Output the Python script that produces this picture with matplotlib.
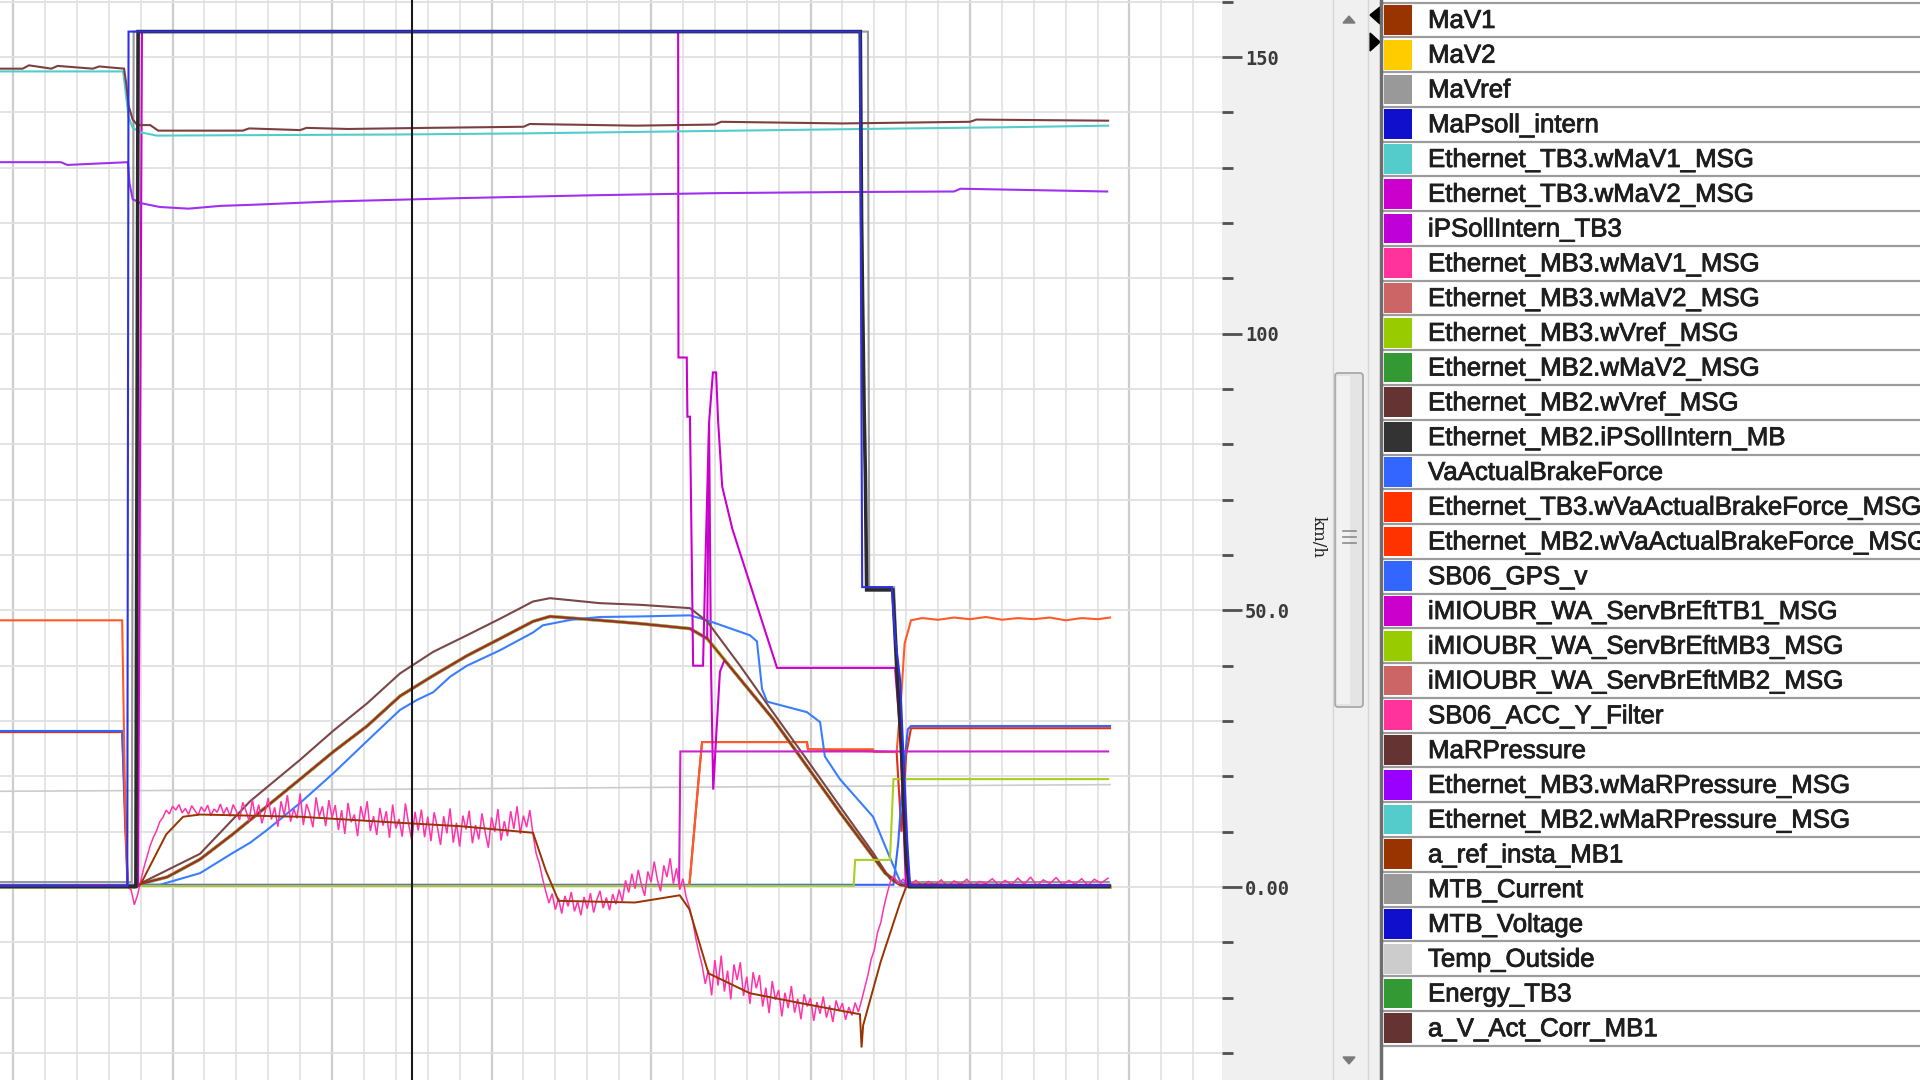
import matplotlib
matplotlib.use("Agg")
import matplotlib.pyplot as plt
import matplotlib.patheffects as pe
from matplotlib.patches import Rectangle, Polygon, FancyBboxPatch
from matplotlib.ticker import FuncFormatter

# ---------------- legend entries ----------------
names = ["MaV1", "MaV2", "MaVref", "MaPsoll_intern", "Ethernet_TB3.wMaV1_MSG",
         "Ethernet_TB3.wMaV2_MSG", "iPSollIntern_TB3", "Ethernet_MB3.wMaV1_MSG",
         "Ethernet_MB3.wMaV2_MSG", "Ethernet_MB3.wVref_MSG", "Ethernet_MB2.wMaV2_MSG",
         "Ethernet_MB2.wVref_MSG", "Ethernet_MB2.iPSollIntern_MB", "VaActualBrakeForce",
         "Ethernet_TB3.wVaActualBrakeForce_MSG", "Ethernet_MB2.wVaActualBrakeForce_MSG",
         "SB06_GPS_v", "iMIOUBR_WA_ServBrEftTB1_MSG", "iMIOUBR_WA_ServBrEftMB3_MSG",
         "iMIOUBR_WA_ServBrEftMB2_MSG", "SB06_ACC_Y_Filter", "MaRPressure",
         "Ethernet_MB3.wMaRPressure_MSG", "Ethernet_MB2.wMaRPressure_MSG", "a_ref_insta_MB1",
         "MTB_Current", "MTB_Voltage", "Temp_Outside", "Energy_TB3", "a_V_Act_Corr_MB1"]
colors = ["#993300", "#ffcc00", "#999999", "#1010cc", "#55cccc", "#cc00cc", "#c000d8",
          "#ff3399", "#cc6666", "#99cc00", "#339933", "#663333", "#333333", "#3366ff",
          "#ff3300", "#ff3300", "#3366ff", "#cc00cc", "#99cc00", "#cc6666", "#ff3399",
          "#663333", "#9900ff", "#55cccc", "#993300", "#999999", "#1010cc", "#cccccc",
          "#339933", "#663333"]

y_labels = {0: "0.00", 50: "50.0", 100: "100", 150: "150"}
cursor_t = 12.5

# ---------------- channels (t, value) ----------------
psoll_t = [-0.41, 3.58, 3.62, 26.55, 26.62, 27.55, 27.65, 27.81, 27.90, 28.03, 28.12, 34.35]
psoll_v = [0.2, 0.2, 154.6, 154.6, 54.2, 54.2, 45.3, 37.4, 25.4, 8.5, 0.2, 0.2]

ipsoll_mb_t = [-0.41, 3.85, 3.92, 26.56, 26.60, 26.63, 26.68, 26.72, 26.76, 27.58, 27.70, 27.85, 28.00, 28.10, 34.35]
ipsoll_mb_v = [0.1, 0.1, 154.6, 154.6, 120.9, 107.0, 86.5, 74.3, 53.7, 53.7, 40.0, 25.0, 5.0, 0.1, 0.1]

mtb_cur_t = [-0.41, 3.72, 3.78, 26.80, 26.84, 27.62, 27.80, 28.06, 34.35]
mtb_cur_v = [0.9, 0.9, 154.6, 154.6, 54.2, 54.2, 30.0, 0.9, 0.9]

press_t = [-0.41, 0.3, 0.5, 1.2, 1.4, 2.5, 2.7, 3.48, 3.55, 3.62, 3.75, 3.9, 4.3, 4.55, 7.2, 7.4,
           9.0, 9.2, 10.5, 13.0, 16.0, 16.2, 19.5, 22.0, 22.2, 26.0, 30.0, 30.2, 34.33]
press_v = [147.9, 147.9, 148.5, 147.9, 148.4, 147.9, 148.3, 147.9, 145.1, 141.2, 138.7, 137.7,
           137.7, 136.7, 136.7, 137.1, 136.8, 137.2, 137.0, 137.2, 137.4, 137.9, 137.6, 137.8,
           138.3, 138.0, 138.3, 138.7, 138.5]

press_mb2_t = [-0.41, 1.3, 3.45, 3.52, 3.62, 3.75, 4.0, 4.5, 8.0, 12.0, 16.0, 20.0, 24.0, 28.0, 31.0, 34.33]
press_mb2_v = [147.4, 147.4, 147.4, 144.1, 139.2, 137.2, 136.4, 135.8, 135.9, 136.0, 136.2, 136.5,
               136.8, 137.1, 137.3, 137.6]

press_mb3_t = [-0.41, 1.5, 1.7, 3.60, 3.65, 3.75, 4.0, 4.6, 5.5, 6.5, 7.5, 10.0, 14.0, 18.0, 22.0,
               26.0, 29.5, 29.7, 34.3]
press_mb3_v = [131.0, 131.0, 130.5, 131.0, 127.2, 124.3, 123.6, 122.9, 122.6, 123.1, 123.3, 123.9,
               124.5, 125.0, 125.4, 125.6, 125.7, 126.2, 125.7]

speed_t = [-0.41, 3.82, 4.08, 4.83, 5.86, 6.90, 7.43, 7.96, 9.00, 10.03, 11.10, 12.13, 13.17, 14.23,
           15.27, 16.30, 16.83, 18.40, 19.66, 21.22, 21.76, 22.79, 23.82, 24.89, 25.92, 26.96, 27.34,
           27.81, 28.12, 34.39]
speed_v = [0.0, 0.0, 0.7, 1.8, 5.0, 9.6, 12.1, 14.6, 19.5, 24.4, 29.1, 34.5, 38.2, 41.8, 44.9, 48.0,
           48.9, 48.2, 47.6, 46.7, 44.9, 37.6, 30.4, 21.8, 13.5, 5.5, 2.5, 0.5, 0.0, 0.0]

vref_t = [-0.41, 3.82, 4.08, 5.86, 7.43, 9.00, 10.03, 11.10, 12.13, 13.17, 14.23, 15.27, 16.30, 16.83,
          18.40, 19.66, 21.22, 21.76, 22.79, 23.82, 24.89, 25.92, 26.96, 27.49, 27.81, 34.39]
vref_v = [0.0, 0.0, 0.9, 6.0, 15.5, 23.0, 28.2, 33.2, 38.6, 42.5, 45.5, 48.5, 51.6, 52.2, 51.3, 51.0,
          50.4, 48.0, 40.0, 31.6, 23.0, 14.6, 6.2, 1.5, 0.3, 0.3]

gps_t = [-0.41, 4.6, 5.86, 6.90, 7.43, 7.96, 9.00, 10.03, 11.10, 12.13, 12.66, 13.17, 13.70, 14.23,
         15.27, 16.30, 16.61, 17.5, 18.4, 19.66, 21.22, 21.76, 23.10, 23.32, 23.48, 23.64, 24.89,
         25.30, 25.45, 25.92, 26.96, 27.49, 27.81, 28.12, 34.39]
gps_v = [0.4, 0.4, 2.5, 6.2, 8.0, 10.3, 15.2, 20.5, 26.4, 32.0, 33.8, 35.2, 38.0, 40.0, 42.8, 46.0,
         47.3, 48.3, 48.8, 48.9, 49.1, 48.2, 45.5, 44.4, 35.8, 33.5, 31.6, 29.8, 23.6, 19.5, 12.7,
         5.3, 1.0, 0.4, 0.4]

mav2_tb3_t = [-0.41, 3.82, 4.08, 4.83, 5.86, 6.90, 7.43, 7.96, 9.00, 10.03, 11.10, 12.13, 13.17, 14.23,
              15.27, 16.30, 16.83, 18.40, 19.66, 21.22, 21.76, 21.82, 21.88, 21.95, 22.05, 22.16,
              22.30, 22.79, 23.82, 24.89, 25.92, 26.96, 27.34, 27.81, 28.12, 34.39]
mav2_tb3_v = [0.0, 0.0, 0.7, 1.8, 5.0, 9.6, 12.1, 14.6, 19.5, 24.4, 29.1, 34.5, 38.2, 41.8, 44.9, 48.0,
              48.9, 48.2, 47.6, 46.7, 44.9, 84.0, 40.0, 17.6, 28.0, 38.9, 41.0, 37.6, 30.4, 21.8, 13.5,
              5.5, 2.5, 0.5, 0.0, 0.0]

psoll_tb3_t = [-0.41, 3.92, 4.04, 20.85, 20.86, 21.12, 21.14, 21.22, 21.32, 21.63, 21.72, 21.82,
               21.94, 22.04, 22.10, 22.23, 22.55, 23.95, 27.65, 27.81, 27.99, 34.33]
psoll_tb3_v = [0.2, 0.2, 154.6, 154.6, 95.7, 95.7, 85.0, 85.0, 40.0, 40.0, 62.0, 84.0, 93.0, 93.0,
               84.5, 72.4, 64.7, 39.6, 39.6, 28.0, 0.3, 0.3]

eff_tb1_t = [-0.41, 20.88, 20.92, 34.33]
eff_tb1_v = [0.2, 0.2, 24.5, 24.5]

eff_mb3_t = [-0.41, 26.35, 26.40, 27.49, 27.60, 34.33]
eff_mb3_v = [0.2, 0.2, 4.9, 4.9, 19.5, 19.5]

temp_t = [-0.41, 10.0, 20.0, 34.39]
temp_v = [17.3, 17.6, 18.0, 18.5]

bf_tb3_t = [-0.41, 3.42, 3.50, 3.58, 21.20, 21.35, 21.50, 21.60, 24.89, 24.92, 26.96, 27.00, 27.70,
            27.85, 27.95, 28.15, 28.5, 29.0, 29.5, 30.0, 30.5, 31.0, 31.5, 32.0, 32.5, 33.0, 33.5,
            34.0, 34.39]
bf_tb3_v = [48.2, 48.2, 20.0, 0.2, 0.2, 10.0, 20.0, 26.2, 26.2, 24.9, 24.9, 24.4, 24.4, 35.0, 44.0,
            48.2, 48.6, 48.3, 48.7, 48.4, 48.8, 48.3, 48.6, 48.4, 48.7, 48.2, 48.6, 48.4, 48.7]

bf_mb2_t = [-0.41, 3.42, 3.52, 3.60, 21.20, 21.35, 21.50, 21.60, 24.89, 24.92, 27.70, 27.85, 28.00,
            28.15, 34.39]
bf_mb2_v = [28.0, 28.0, 10.0, 0.2, 0.2, 10.0, 20.0, 26.2, 26.2, 24.9, 24.4, 10.0, 24.0, 28.7, 28.7]

bf_act_t = [-0.41, 3.42, 3.60, 27.60, 27.75, 27.90, 28.05, 28.15, 34.39]
bf_act_v = [28.2, 28.2, 0.4, 0.4, 8.0, 20.0, 28.5, 29.1, 29.1]

acc_t = [-0.41, 1.0, 2.5, 3.5, 3.7, 3.8, 3.9, 4.0, 4.1, 4.2, 4.3, 4.4, 4.5, 4.6, 4.7, 4.8,
         4.9, 5.0, 5.1, 5.2, 5.3, 5.4, 5.5, 5.6, 5.7, 5.8, 5.9, 6.0, 6.1, 6.2, 6.3, 6.4, 6.5,
         6.6, 6.7, 6.8, 6.9, 7.0,
         7.1, 7.2, 7.3, 7.4, 7.5, 7.6, 7.7, 7.8, 7.9, 8.0, 8.1, 8.2, 8.3, 8.4, 8.5, 8.6, 8.7,
         8.8, 8.9, 9.0, 9.1, 9.2, 9.3, 9.4, 9.5, 9.6, 9.7, 9.8, 9.9, 10.0,
         10.1, 10.2, 10.3, 10.4, 10.5, 10.6, 10.7, 10.8, 10.9, 11.0, 11.1, 11.2, 11.3, 11.4, 11.5,
         11.6, 11.7, 11.8, 11.9, 12.0, 12.1, 12.2, 12.3, 12.4, 12.5, 12.6, 12.7, 12.8, 12.9, 13.0,
         13.1, 13.2, 13.3, 13.4, 13.5, 13.6, 13.7, 13.8, 13.9, 14.0, 14.1, 14.2, 14.3, 14.4, 14.5,
         14.6, 14.7, 14.8, 14.9, 15.0, 15.1, 15.2, 15.3, 15.4, 15.5, 15.6, 15.7, 15.8, 15.9, 16.0,
         16.1, 16.2,
         16.3, 16.4, 16.5, 16.6, 16.7, 16.8, 16.9, 17.0,
         17.1, 17.2, 17.3, 17.4, 17.5, 17.6, 17.7, 17.8, 17.9, 18.0, 18.1, 18.2, 18.3, 18.4, 18.5,
         18.6, 18.7, 18.8, 18.9, 19.0,
         19.1, 19.2, 19.3, 19.4, 19.5, 19.6, 19.7, 19.8, 19.9, 20.0, 20.1, 20.2, 20.3, 20.4, 20.5,
         20.6, 20.7, 20.8, 20.9,
         21.0, 21.1, 21.2, 21.3, 21.4, 21.5, 21.6, 21.7, 21.8,
         21.9, 22.0, 22.1, 22.2, 22.3, 22.4, 22.5, 22.6, 22.7, 22.8, 22.9, 23.0, 23.1, 23.2, 23.3,
         23.4, 23.5, 23.6, 23.7, 23.8, 23.9, 24.0, 24.1, 24.2, 24.3, 24.4, 24.5, 24.6, 24.7, 24.8,
         24.9, 25.0, 25.1, 25.2, 25.3, 25.4, 25.5, 25.6, 25.7, 25.8, 25.9, 26.0, 26.1, 26.2, 26.3,
         26.4, 26.5,
         26.6, 26.7, 26.8, 26.9, 27.0, 27.1, 27.2, 27.3, 27.4, 27.5, 27.6,
         27.75, 27.9, 28.1, 28.3, 28.5, 28.7, 28.9, 29.1, 29.3, 29.5, 29.7, 29.9, 30.1, 30.3, 30.5,
         30.7, 30.9, 31.1, 31.3, 31.5, 31.7, 31.9, 32.1, 32.3, 32.5, 32.7, 32.9, 33.1, 33.3, 33.5,
         33.7, 33.9, 34.1, 34.33]
acc_v = [0.3, 0.2, 0.4, 0.3, -0.5, -3.2, -1.5, 1.0, 3.5, 5.5, 7.5, 9.0, 10.2, 11.8, 12.6, 13.9,
         13.2, 14.6, 13.9, 14.9, 13.4, 14.2, 13.1, 14.7, 13.8, 13.0, 14.5, 13.6, 14.8, 12.9, 14.1,
         13.5, 15.0, 13.2, 14.4, 12.8, 14.9, 13.7,
         12.1, 15.3, 13.8, 11.9, 15.8, 12.6, 14.9, 11.5, 13.6, 16.1, 12.2, 14.4, 10.9, 15.5, 13.0,
         16.6, 11.8, 14.1, 12.4, 16.9, 11.2, 15.0, 13.3, 10.8, 16.2, 12.7, 14.6, 11.0, 15.7, 12.5,
         14.8, 10.3, 13.9, 9.6, 15.2, 11.7, 13.1, 9.2, 14.6, 12.0, 15.5, 10.1, 12.8, 9.4, 14.3,
         11.1, 13.7, 8.9, 14.9, 10.6, 12.3, 9.1, 15.1, 11.4, 8.4, 13.6, 10.2, 14.0, 9.0, 12.7,
         8.3, 13.5, 10.9, 7.6, 12.8, 9.7, 14.2, 8.0, 11.6, 7.3, 12.9, 10.4, 13.8, 7.9, 11.2,
         8.6, 13.3, 9.9, 7.1, 12.6, 10.0, 14.1, 8.4, 11.9, 9.2, 13.7, 10.5, 14.6, 9.6, 12.9,
         10.8, 13.9,
         9.5, 6.0, 4.2, 1.5, -0.8, -2.9, -1.2, -4.1,
         -2.0, -4.8, -1.6, -3.5, -0.9, -4.4, -2.6, -5.1, -1.8, -3.9, -1.1, -4.6, -2.3, -0.7, -3.8,
         -1.9, -4.2, -1.3, -3.1, -0.5,
         -2.6, 1.2, -1.0, 2.4, -0.3, 3.1, 0.4, -1.6, 2.8, 0.9, 4.6, 1.3, -0.8, 3.9, 1.8,
         5.2, 0.6, 3.4, -0.5,
         1.5, -1.8, -3.6, -5.9, -9.2, -11.8, -14.1, -17.5, -15.0,
         -19.6, -13.2, -17.8, -12.4, -18.9, -15.1, -20.3, -14.0, -16.8, -13.6, -19.7, -16.2, -21.1,
         -15.4, -18.3, -15.9, -21.6, -18.2, -22.8, -17.0, -20.4, -18.6, -23.4, -19.1, -21.9, -17.9,
         -22.7, -20.2, -23.9, -19.4, -21.6, -20.0, -24.2, -20.8, -22.9, -19.8, -23.6, -21.4, -24.4,
         -20.5, -22.4, -21.0, -24.0, -21.7, -23.2, -20.9, -22.6,
         -20.5, -18.2, -15.9, -13.1, -11.4, -8.2, -6.5, -3.6, -1.2, 0.9, 2.0,
         0.6, 1.4, 0.3, 1.2, 0.2, 1.0, 0.4, 1.3, 0.1, 1.1, 0.5, 1.4, 0.2, 1.0, 0.6,
         1.5, 0.3, 1.2, 0.4, 1.6, 0.5, 1.8, 0.2, 1.3, 0.6, 1.7, 0.4, 1.2, 0.5, 1.5,
         0.3, 1.4, 0.7, 1.6]

aref_t = [-0.41, 3.8, 4.0, 4.4, 4.8, 5.33, 5.86, 9.0, 12.13, 14.0, 16.3, 16.7, 17.1, 19.5, 20.9,
          21.2, 21.8, 23.1, 24.7, 26.55, 26.6, 26.65, 27.2, 27.8, 28.03, 34.35]
aref_v = [0.0, 0.0, 0.5, 5.0, 9.5, 12.7, 13.1, 12.7, 11.6, 11.0, 9.8, 3.0, -2.5, -2.8, -1.5,
          -4.0, -15.6, -19.2, -21.0, -23.0, -29.0, -25.0, -13.5, -3.0, 0.5, 0.3]

# ---------------- figure ----------------
W, H = 1920, 1080
fig = plt.figure(figsize=(19.2, 10.8), dpi=100)
fig.patch.set_facecolor("#f0f0f0")

ax = fig.add_axes([0, 0, 1222 / W, 1])
ax.set_facecolor("white")
ax.set_xlim(-0.41, 37.9)
ax.set_ylim(-34.88, 160.31)
for s in ax.spines.values():
    s.set_visible(False)
ax.set_xticks(range(0, 38, 5))
ax.set_xticks(range(0, 38), minor=True)
ax.set_yticks([0, 50, 100, 150])
ax.set_yticks(range(-30, 161, 10), minor=True)
ax.yaxis.tick_right()
ax.yaxis.set_major_formatter(FuncFormatter(lambda v, p: y_labels.get(int(round(v)), "")))
ax.tick_params(axis="x", which="both", length=0, labelbottom=False)
ax.tick_params(axis="y", which="major", right=True, left=False, length=14.5, width=2,
               color="#505050", pad=2, labelsize=13.5, labelcolor="#3a3a3a")
ax.tick_params(axis="y", which="minor", right=True, left=False, length=8, width=2, color="#505050")
ax.grid(axis="x", which="minor", color="#e3e3e3", lw=1.3)
ax.grid(axis="x", which="major", color="#cdcdcd", lw=1.6)
ax.grid(axis="y", which="both", color="#e0e0e0", lw=1.3)
ax.set_axisbelow(True)
for lab in ax.get_yticklabels():
    lab.set_family("DejaVu Sans Mono")
    lab.set_fontweight("bold")


def line(t, v, c, lw=1.5, z=2):
    ax.plot(t, v, color=c, lw=lw, zorder=z, solid_joinstyle="miter")


line(temp_t, temp_v, "#cccccc", 1.2, 1.5)
line(mtb_cur_t, mtb_cur_v, "#999999", 1.5, 2)
line(bf_mb2_t, bf_mb2_v, "#e82a10", 1.5, 2.1)
line(bf_act_t, bf_act_v, "#3366ff", 1.5, 2.2)
line(bf_tb3_t, bf_tb3_v, "#ff5a28", 1.5, 2.3)
line(speed_t, speed_v, "#339933", 2.4, 2.4)
line(speed_t, speed_v, "#55cccc", 2.0, 2.5)
line(speed_t, speed_v, "#ffcc00", 2.0, 2.6)
line(mav2_tb3_t, mav2_tb3_v, "#cc00cc", 1.5, 2.65)
line(gps_t, gps_v, "#3a7dff", 1.5, 2.7)
line(vref_t, vref_v, "#7a4646", 1.5, 2.8)
line(speed_t, speed_v, "#8f3a10", 1.4, 2.9)
line(eff_tb1_t, eff_tb1_v, "#cc22cc", 1.5, 3)
line(eff_mb3_t, eff_mb3_v, "#a8d020", 1.5, 3)
line(acc_t, acc_v, "#ff33aa", 1.1, 3.2)
line(aref_t, aref_v, "#993300", 1.4, 3.3)
line(psoll_tb3_t, psoll_tb3_v, "#cc00cc", 1.5, 3.4)
line(press_mb2_t, press_mb2_v, "#55cccc", 1.5, 3.5)
line(press_t, press_v, "#7a4040", 1.5, 3.6)
line(press_mb3_t, press_mb3_v, "#a030f0", 1.5, 3.6)
line(ipsoll_mb_t, ipsoll_mb_v, "#2a2a2a", 2.6, 3.7)
line(psoll_t, psoll_v, "#2f2fe6", 1.5, 3.8)
ax.axvline(cursor_t, color="#1a1a1a", lw=1.5, zorder=4)

# ---------------- window chrome ----------------
ui = fig.add_axes([0, 0, 1, 1])
ui.set_xlim(0, W)
ui.set_ylim(H, 0)
ui.axis("off")
ui.patch.set_alpha(0)

ui.plot([1333, 1333], [0, H], color="#d6d6d6", lw=1)
ui.plot([1368, 1368], [0, H], color="#d6d6d6", lw=1)
ui.add_patch(FancyBboxPatch((1335, 373), 28, 334, boxstyle="round,pad=0,rounding_size=3",
                            fc="#e4e4e4", ec="#a4a4a4", lw=1.2))
ui.add_patch(Rectangle((1337, 376), 13, 328, fc="#f2f2f2", ec="none"))
for gy in (531, 537, 543):
    ui.plot([1343, 1356], [gy, gy], color="#8c8c8c", lw=1.2)
ui.add_patch(Polygon([(1343, 23), (1355, 23), (1349, 16)], closed=True, color="#7a7a7a"))
ui.add_patch(Polygon([(1343, 1057), (1355, 1057), (1349, 1064)], closed=True, color="#7a7a7a"))
ui.text(1318, 537, "km/h", rotation=-90, fontsize=12, family="DejaVu Serif",
        ha="center", va="center", color="#222222")

# legend list
ui.add_patch(Rectangle((1381, 0), W - 1381, H, fc="white", ec="none"))
ROW_H = 34.77
ROW_Y0 = 2.5
ui.plot([1381, W], [ROW_Y0, ROW_Y0], color="#9c9c9c", lw=1.6)
for i, (n, c) in enumerate(zip(names, colors)):
    y0 = ROW_Y0 + i * ROW_H
    ui.add_patch(Rectangle((1384, y0 + 2.5), 28, ROW_H - 5, fc=c, ec="none"))
    ui.plot([1381, W], [y0 + ROW_H, y0 + ROW_H], color="#9c9c9c", lw=1.6)
    ui.text(1428, y0 + ROW_H / 2 + 1, n, fontsize=18.6, family="Liberation Sans",
            ha="left", va="center", color="#1e1e1e",
            path_effects=[pe.withStroke(linewidth=0.6, foreground="#1e1e1e")])
ui.plot([1381, 1381], [0, H], color="#6e6e6e", lw=2.5)
ui.add_patch(Polygon([(1370, 15), (1380, 7), (1380, 24)], closed=True, color="black"))
ui.add_patch(Polygon([(1380, 42), (1370, 33), (1370, 51)], closed=True, color="black"))

fig.savefig("out.png", dpi=100)
